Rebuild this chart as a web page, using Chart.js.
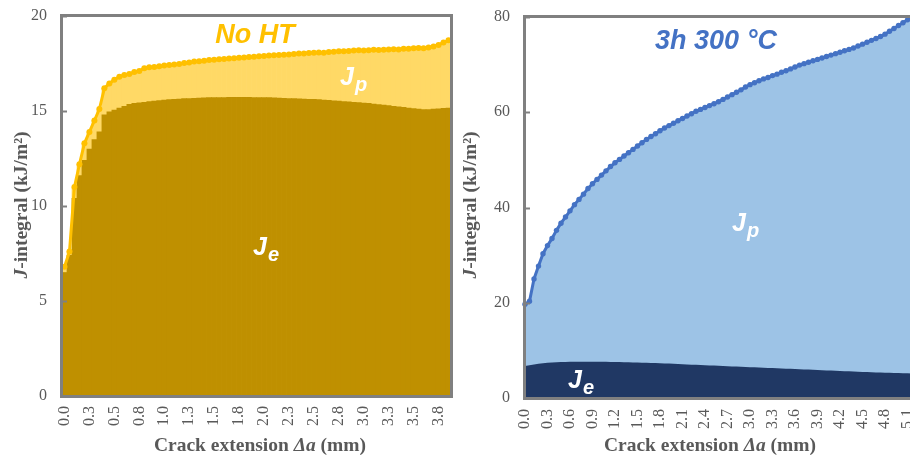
<!DOCTYPE html>
<html><head><meta charset="utf-8">
<script src="https://cdn.jsdelivr.net/npm/chart.js@4.4.0/dist/chart.umd.min.js"></script>
<style>
html,body{margin:0;padding:0;width:910px;height:458px;overflow:hidden;background:#fff;}
#left{position:absolute;left:0;top:0;width:455px;height:458px;}
#right{position:absolute;left:455px;top:0;width:462px;height:458px;}
</style></head><body>
<div id="left"><canvas id="c1"></canvas></div>
<div id="right"><canvas id="c2"></canvas></div>
<script>
// ---------- data: No HT ----------
const leftDa = [0.00,0.05,0.10,0.15,0.20,0.25,0.30,0.35,0.40,0.45,0.50,0.55,0.60,0.65,0.70,0.75,0.80,0.85,0.90,0.95,
  1.00,1.05,1.10,1.15,1.20,1.25,1.30,1.35,1.40,1.45,1.50,1.55,1.60,1.65,1.70,1.75,1.80,1.85,1.90,1.95,
  2.00,2.05,2.10,2.15,2.20,2.25,2.30,2.35,2.40,2.45,2.50,2.55,2.60,2.65,2.70,2.75,2.80,2.85,2.90,2.95,
  3.00,3.05,3.10,3.15,3.20,3.25,3.30,3.35,3.40,3.45,3.50,3.55,3.60,3.65,3.70,3.75,3.80,3.85];
const leftJ = [6.8,7.6,11.0,12.2,13.3,13.9,14.5,15.1,16.2,16.45,16.65,16.8,16.9,16.95,17.05,17.1,17.25,17.3,17.32,17.35,
  17.4,17.42,17.45,17.48,17.52,17.55,17.6,17.62,17.65,17.68,17.7,17.72,17.74,17.76,17.78,17.8,17.82,17.84,17.85,17.88,
  17.9,17.92,17.93,17.95,17.96,17.98,18.0,18.02,18.03,18.05,18.06,18.08,18.07,18.1,18.12,18.14,18.15,18.16,18.18,18.2,
  18.19,18.2,18.22,18.21,18.23,18.24,18.25,18.24,18.27,18.28,18.3,18.32,18.3,18.34,18.4,18.48,18.6,18.72];
const leftJe = [6.5,7.4,10.4,11.6,12.4,13.0,13.5,13.9,14.8,14.95,15.05,15.15,15.25,15.35,15.4,15.43,15.46,15.5,15.52,15.55,
  15.58,15.6,15.62,15.63,15.65,15.66,15.67,15.68,15.69,15.7,15.7,15.71,15.71,15.72,15.72,15.72,15.72,15.72,15.71,15.71,
  15.7,15.7,15.69,15.68,15.67,15.66,15.65,15.64,15.63,15.62,15.61,15.6,15.58,15.56,15.54,15.52,15.5,15.48,15.46,15.44,
  15.42,15.4,15.37,15.34,15.31,15.28,15.25,15.22,15.19,15.16,15.13,15.1,15.08,15.08,15.1,15.12,15.14,15.15];
const leftTickLabels = ['0.0','0.3','0.5','0.8','1.0','1.3','1.5','1.8','2.0','2.3','2.5','2.8','3.0','3.3','3.5','3.8'];
const leftYTicks = [0,5,10,15,20];

// ---------- data: 3h 300 °C ----------
const rightDa = [0.00,0.06,0.12,0.18,0.24,0.30,0.36,0.42,0.48,0.54,
  0.60,0.66,0.72,0.78,0.84,0.90,0.96,1.02,1.08,1.14,
  1.20,1.26,1.32,1.38,1.44,1.50,1.56,1.62,1.68,1.74,
  1.80,1.86,1.92,1.98,2.04,2.10,2.16,2.22,2.28,2.34,
  2.40,2.46,2.52,2.58,2.64,2.70,2.76,2.82,2.88,2.94,
  3.00,3.06,3.12,3.18,3.24,3.30,3.36,3.42,3.48,3.54,
  3.60,3.66,3.72,3.78,3.84,3.90,3.96,4.02,4.08,4.14,
  4.20,4.26,4.32,4.38,4.44,4.50,4.56,4.62,4.68,4.74,
  4.80,4.86,4.92,4.98,5.04,5.10,5.16];
const rightJ = [19.7,20.3,25.0,27.7,30.3,32.0,33.5,35.2,36.7,38.0,
  39.3,40.6,41.7,42.8,44.0,45.0,45.9,46.8,47.7,48.6,
  49.4,50.1,50.8,51.5,52.2,52.9,53.6,54.3,54.9,55.5,
  56.1,56.7,57.2,57.7,58.2,58.7,59.2,59.7,60.2,60.6,
  61.0,61.4,61.8,62.2,62.7,63.2,63.7,64.2,64.7,65.3,
  65.8,66.2,66.6,67.0,67.3,67.7,68.0,68.4,68.7,69.1,
  69.5,69.9,70.2,70.5,70.8,71.1,71.4,71.7,72.0,72.3,
  72.6,72.9,73.2,73.5,73.9,74.3,74.7,75.1,75.5,75.9,
  76.4,77.0,77.6,78.2,78.8,79.4,80.0];
const rightJe = [6.7,6.9,7.05,7.2,7.3,7.4,7.45,7.5,7.55,7.58,
  7.6,7.6,7.62,7.62,7.62,7.62,7.62,7.6,7.6,7.58,
  7.56,7.54,7.52,7.5,7.48,7.45,7.42,7.4,7.37,7.34,
  7.3,7.26,7.22,7.18,7.14,7.1,7.05,7.0,6.96,6.92,
  6.88,6.84,6.8,6.76,6.72,6.68,6.64,6.6,6.56,6.52,
  6.48,6.44,6.4,6.36,6.32,6.28,6.24,6.2,6.16,6.12,
  6.08,6.04,6.0,5.96,5.92,5.88,5.84,5.8,5.76,5.72,
  5.68,5.64,5.6,5.56,5.52,5.48,5.44,5.41,5.38,5.35,
  5.32,5.29,5.26,5.23,5.2,5.18,5.16];
const rightTickLabels = ['0.0','0.3','0.6','0.9','1.2','1.5','1.8','2.1','2.4','2.7','3.0','3.3','3.6','3.9','4.2','4.5','4.8','5.1'];
const rightYTicks = [0,20,40,60,80];

// ---------- helpers ----------
const GRAY = '#595959', FRAME = '#808080';
const SERIF = '"Liberation Serif","Times New Roman",serif';
const SANS = '"Liberation Sans",Arial,sans-serif';

function drawRuns(ctx, runs, x, y, align, rot) {
  ctx.save();
  ctx.translate(x, y);
  if (rot) ctx.rotate(rot);
  let w = 0;
  runs.forEach(r => { ctx.font = r.f; r.w = ctx.measureText(r.t).width; w += r.w + (r.gap || 0); });
  let cx = align === 'center' ? -w / 2 : 0;
  ctx.textBaseline = 'alphabetic';
  ctx.textAlign = 'left';
  runs.forEach(r => { ctx.font = r.f; ctx.fillStyle = r.c; ctx.fillText(r.t, cx, r.dy || 0); cx += r.w + (r.gap || 0); });
  ctx.restore();
}

function makeDecor(cfg) {
  return {
    id: 'decor',
    afterDatasetsDraw(chart) {
      const ctx = chart.ctx, a = chart.chartArea, ys = chart.scales.y;
      ctx.save();
      ctx.strokeStyle = FRAME;
      ctx.lineWidth = 2;
      cfg.yTicks.forEach(v => {
        const py = Math.round(ys.getPixelForValue(v)) + 0.5;
        ctx.beginPath(); ctx.moveTo(a.left, py); ctx.lineTo(a.left + 5, py); ctx.stroke();
      });
      ctx.lineWidth = 3;
      ctx.beginPath();
      ctx.moveTo(a.left - 0.5, a.top - 0.5); ctx.lineTo(a.left - 0.5, a.bottom + 0.5);
      ctx.moveTo(a.left - 2, a.bottom + 0.5); ctx.lineTo(cfg.rightFrame ? a.right + 2 : a.right + 20, a.bottom + 0.5);
      ctx.moveTo(a.left - 2, a.top - 0.5); ctx.lineTo(cfg.rightFrame ? a.right + 2 : a.right + 20, a.top - 0.5);
      if (cfg.rightFrame) { ctx.moveTo(a.right + 0.5, a.top - 0.5); ctx.lineTo(a.right + 0.5, a.bottom + 0.5); }
      ctx.stroke();
      ctx.restore();
    },
    afterDraw(chart) {
      const ctx = chart.ctx;
      drawRuns(ctx, [{t: cfg.title, f: 'italic bold 27px ' + SANS, c: cfg.titleColor}], cfg.titleX, cfg.titleY, 'center');
      const lab = (sub, x, y) => drawRuns(ctx, [
        {t: 'J', f: 'italic bold 25px ' + SANS, c: '#ffffff', gap: 1},
        {t: sub, f: 'italic bold 20px ' + SANS, c: '#ffffff', dy: 6}], x, y, 'left');
      lab('p', cfg.jp[0], cfg.jp[1]);
      lab('e', cfg.je[0], cfg.je[1]);
      const bf = 'bold 19.5px ' + SERIF, bif = 'italic bold 19.5px ' + SERIF;
      drawRuns(ctx, [
        {t: 'Crack extension ', f: bf, c: GRAY},
        {t: 'Δa', f: bif, c: GRAY},
        {t: ' (mm)', f: bf, c: GRAY}], cfg.xtX, 451, 'center');
      drawRuns(ctx, [
        {t: 'J', f: bif, c: GRAY},
        {t: '-integral (kJ/m²)', f: bf, c: GRAY}], cfg.ytX, 205, 'center', -Math.PI / 2);
    }
  };
}

function baseOptions(o) {
  return {
    responsive: true, maintainAspectRatio: false, animation: false, devicePixelRatio: 1,
    layout: {padding: {left: 0, top: o.top, right: o.right, bottom: 0}},
    plugins: {legend: {display: false}, tooltip: {enabled: false}},
    scales: {
      x: {
        offset: o.offset,
        grid: {display: false, drawTicks: false},
        border: {display: false},
        afterFit: s => { s.height = o.xh; s.paddingLeft = 0; s.paddingRight = 0; },
        ticks: {
          autoSkip: false, minRotation: 90, maxRotation: 90, padding: o.xpad,
          color: GRAY, font: {family: SERIF, size: 16},
          callback: (v, i) => (i % 5 === 0 && o.xlabels[i / 5] !== undefined) ? o.xlabels[i / 5] : null
        }
      },
      y: {
        min: 0, max: o.ymax, stacked: false,
        grid: {display: false, drawTicks: false},
        border: {display: false},
        afterFit: s => { s.width = o.yw; s.paddingTop = 0; s.paddingBottom = 0; },
        ticks: {stepSize: o.step, padding: 15, color: GRAY, font: {family: SERIF, size: 16}}
      }
    }
  };
}

// ---------- left chart ----------
new Chart(document.getElementById('c1'), {
  type: 'bar',
  data: {
    labels: leftDa,
    datasets: [
      {type: 'line', data: leftJ, borderColor: '#FFC000', backgroundColor: '#FFC000', borderWidth: 3,
       pointRadius: 3, pointBorderWidth: 0, pointBackgroundColor: '#FFC000', fill: false, order: 0, tension: 0},
      {type: 'bar', data: leftJe, backgroundColor: '#BF9000', grouped: false, barPercentage: 1, categoryPercentage: 1, borderWidth: 0, order: 1},
      {type: 'bar', data: leftJ, backgroundColor: '#FFD966', grouped: false, barPercentage: 1, categoryPercentage: 1, borderWidth: 0, order: 2}
    ]
  },
  options: baseOptions({top: 16, right: 4, offset: true, xh: 62, yw: 62, xpad: 10, ymax: 20, step: 5, xlabels: leftTickLabels}),
  plugins: [makeDecor({yTicks: leftYTicks, rightFrame: true, title: 'No HT', titleColor: '#FFC000', titleX: 255, titleY: 43,
    jp: [340, 85], je: [253, 255], xtX: 260, ytX: 27})]
});

// ---------- right chart ----------
new Chart(document.getElementById('c2'), {
  type: 'line',
  data: {
    labels: rightDa,
    datasets: [
      {data: rightJ, borderColor: '#4472C4', backgroundColor: '#4472C4', borderWidth: 3,
       pointRadius: 2.7, pointBorderWidth: 0, pointBackgroundColor: '#4472C4', fill: false, order: 0, tension: 0},
      {data: rightJe, borderWidth: 0, pointRadius: 0, backgroundColor: '#203864', fill: 'origin', order: 1},
      {data: rightJ, borderWidth: 0, pointRadius: 0, backgroundColor: '#9DC3E6', fill: 'origin', order: 2}
    ]
  },
  options: baseOptions({top: 17, right: 5, offset: false, xh: 60, yw: 70, xpad: 11, ymax: 80, step: 20, xlabels: rightTickLabels}),
  plugins: [makeDecor({yTicks: rightYTicks, rightFrame: false, title: '3h 300 °C', titleColor: '#4472C4', titleX: 261, titleY: 49,
    jp: [277, 231], je: [113, 388], xtX: 255, ytX: 21})]
});
</script>
</body></html>
